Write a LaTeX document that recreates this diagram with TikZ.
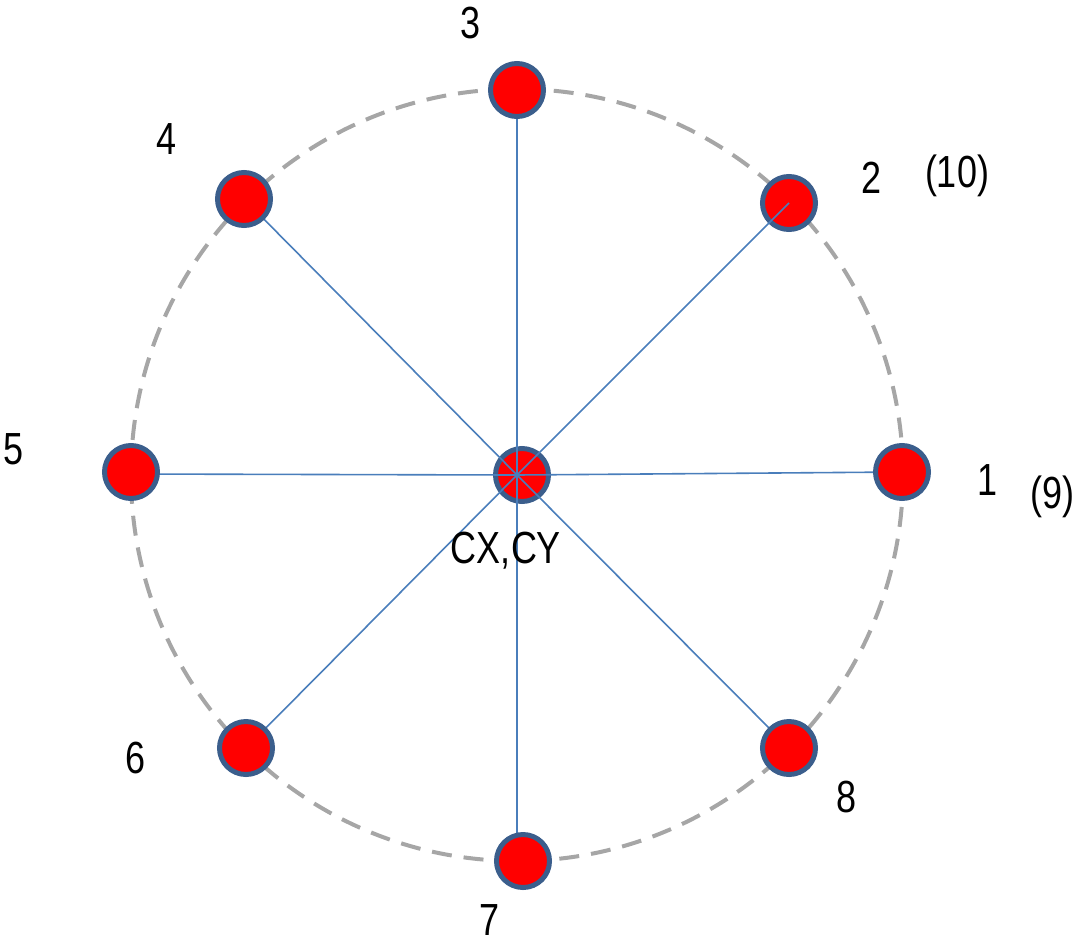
\documentclass[tikz,border=0pt]{standalone}
\usepackage{fontspec}
\setmainfont{Liberation Sans}[FakeStretch=0.8]
\definecolor{nodeedge}{HTML}{3B5E8C}
\definecolor{spoke}{HTML}{4A7EBB}
\definecolor{ring}{HTML}{A6A6A6}
\begin{document}
\begin{tikzpicture}[x=1pt,y=-1pt,
  dot/.style={circle,fill=red,draw=nodeedge,line width=5pt,minimum size=53pt,inner sep=0pt},
  lbl/.style={font=\fontsize{45}{54}\selectfont,inner sep=0pt},
  spokeline/.style={draw=spoke,line width=1.6pt},
  ringline/.style={draw=ring,line width=4pt,dash pattern=on 20pt off 12pt}]
\useasboundingbox (0,0) rectangle (1079,946);
\draw[ringline] (517,475) circle[radius=386];
\coordinate (c) at (517,475);
\node[dot] (c0) at (522,475) {};
\node[dot] (n2) at (789,203) {};
\foreach \i/\x/\y in {1/902/472,3/517/90,4/244/199,5/131/474,6/246/748,7/517/861,8/789/748}{
  \coordinate (p\i) at (\x,\y);
}
\coordinate (p2) at (789,203);
\foreach \i in {1,...,8}{
  \draw[spokeline] (c) -- (p\i);
}
\node[dot] (n1) at (902,472) {};
\node[dot] (n3) at (517,90) {};
\node[dot] (n4) at (244,199) {};
\node[dot] (n5) at (131,472) {};
\node[dot] (n6) at (246,748) {};
\node[dot] (n7) at (523,861) {};
\node[dot] (n8) at (789,748) {};
\node[lbl] (l1) at (987,480) {1};
\node[lbl] (l9) at (1052,497) {(9)};
\node[lbl] (l2) at (872,178) {2};
\node[lbl] (l10) at (957,176) {(10)};
\node[lbl] (l3) at (471,23) {3};
\node[lbl] (l4) at (167,139) {4};
\node[lbl] (l5) at (14,449) {5};
\node[lbl] (l6) at (136,758) {6};
\node[lbl] (l7) at (490,920) {7};
\node[lbl] (l8) at (847,797) {8};
\node[lbl] (lc) at (506,551) {CX,CY};
\end{tikzpicture}
\end{document}
